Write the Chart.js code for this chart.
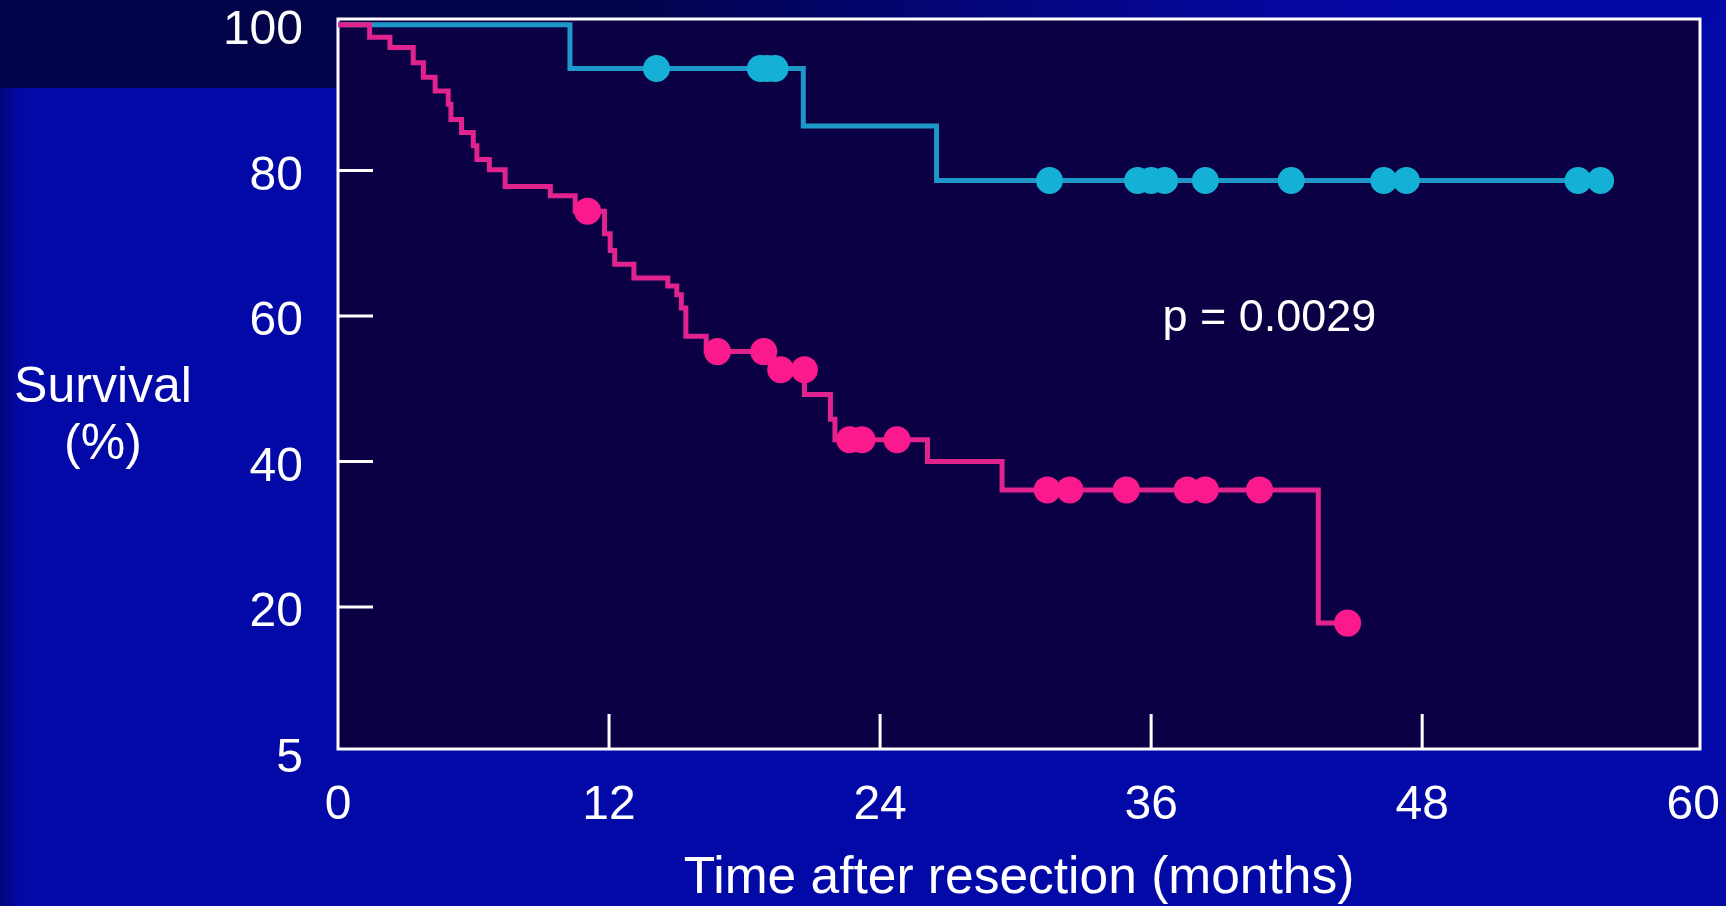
<!DOCTYPE html>
<html>
<head>
<meta charset="utf-8">
<script src="https://cdn.jsdelivr.net/npm/chart.js@4.4.1/dist/chart.umd.min.js"></script>
<style>
  html, body { margin: 0; padding: 0; }
  body { width: 1726px; height: 906px; overflow: hidden; background: #0309a6; position: relative; }
  #topband { position: absolute; left: 0; top: 0; width: 1726px; height: 19px;
    background: linear-gradient(to right, #03034a 0%, #03034a 35%, #0407a0 75%, #0309a6 100%); }
  #corner { position: absolute; left: 0; top: 0; width: 336px; height: 88px; background: #03034a; }
  #edge { position: absolute; left: 0; top: 88px; width: 20px; height: 818px;
    background: linear-gradient(to right, #02067c, #0309a6); }
  canvas { position: absolute; left: 0; top: 0; }
</style>
</head>
<body>
<div id="topband"></div>
<div id="corner"></div>
<div id="edge"></div>
<canvas id="km" width="1726" height="906"></canvas>
<script>
// Kaplan-Meier steps: survival drops to S at time t
const pinkTimes = [0, 1.4, 2.3, 3.33, 3.78, 4.3, 4.88, 5.0, 5.47, 5.99, 6.15, 6.7, 7.4, 9.4, 10.5,
  11.8, 12.05, 12.25, 13.1, 14.6, 15.0, 15.2, 15.4, 16.3, 19.15, 20.65, 21.8, 22.0, 26.1, 29.4, 43.4, 44.7];
const pinkSurv = [100, 98.3, 96.9, 94.8, 92.8, 90.9, 89.1, 87.0, 85.2, 83.4, 81.5, 80.1, 77.8, 76.5, 74.4,
  71.3, 69.0, 67.1, 65.2, 64.1, 62.9, 61.1, 57.2, 55.1, 52.6, 49.2, 45.8, 43.0, 40.0, 36.1, 17.8, 17.8];
// censored patients
const pinkCensorT = [11.05, 16.8, 18.85, 19.6, 20.65, 22.65, 23.2, 24.75, 31.4, 32.4, 34.9, 37.6, 38.4, 40.8, 44.7];
const pinkCensorS = [74.4, 55.1, 55.1, 52.6, 52.6, 43.0, 43.0, 43.0, 36.1, 36.1, 36.1, 36.1, 36.1, 36.1, 17.8];

const cyanTimes = [0, 10.27, 20.6, 26.5, 55.9];
const cyanSurv = [100, 94.0, 86.1, 78.6, 78.6];
const cyanCensorT = [14.1, 18.7, 19.0, 19.35, 31.5, 35.4, 36.0, 36.6, 38.4, 42.2, 46.3, 47.3, 54.9, 55.9];
const cyanCensorS = [94.0, 94.0, 94.0, 94.0, 78.6, 78.6, 78.6, 78.6, 78.6, 78.6, 78.6, 78.6, 78.6, 78.6];

const xTicks = [0, 12, 24, 36, 48, 60];
const yTicks = [0, 20, 40, 60, 80, 100];
const yTickLabels = ['5', '20', '40', '60', '80', '100'];
const xMin = 0, xMax = 60.3, yMin = 0.5, yMax = 100.8;

const pText = 'p = 0.0029';
const pAt = [36.5, 58.0];

const FONT = '"Liberation Sans", Arial, sans-serif';
const PLOT_BG = '#0a0043';

const toPts = (xs, ys) => xs.map((t, i) => ({ x: t, y: ys[i] }));

const framePlugin = {
  id: 'frame',
  beforeDraw(chart) {
    const { ctx, chartArea: a } = chart;
    ctx.save();
    ctx.fillStyle = PLOT_BG;
    ctx.fillRect(a.left, a.top, a.right - a.left, a.bottom - a.top);
    ctx.restore();
  },
  beforeDatasetsDraw(chart) {
    const { ctx, chartArea: a, scales: { x, y } } = chart;
    ctx.save();
    ctx.strokeStyle = '#ffffff';
    ctx.lineWidth = 3;
    ctx.strokeRect(a.left, a.top, a.right - a.left, a.bottom - a.top);
    // inward tick marks (end ticks fall on the frame)
    ctx.beginPath();
    x.ticks.forEach((t, i) => {
      if (i === 0 || i === x.ticks.length - 1) return;
      const px = x.getPixelForValue(t.value);
      ctx.moveTo(px, a.bottom); ctx.lineTo(px, a.bottom - 35);
    });
    y.ticks.forEach(t => {
      if (t.value <= yMin) return;
      const py = y.getPixelForValue(t.value);
      ctx.moveTo(a.left, py); ctx.lineTo(a.left + 35, py);
    });
    ctx.stroke();
    ctx.restore();
  },
  afterDraw(chart) {
    const { ctx, scales: { x, y } } = chart;
    ctx.save();
    ctx.fillStyle = '#ffffff';
    ctx.font = '50px ' + FONT;
    ctx.textAlign = 'center';
    ctx.textBaseline = 'alphabetic';
    ctx.fillText('Survival', 103, 402);
    ctx.fillText('(%)', 103, 459);
    ctx.font = '45px ' + FONT;
    ctx.textAlign = 'left';
    ctx.fillText(pText, x.getPixelForValue(pAt[0]), y.getPixelForValue(pAt[1]));
    ctx.restore();
  }
};

new Chart(document.getElementById('km'), {
  type: 'line',
  data: {
    datasets: [
      { data: toPts(pinkCensorT, pinkCensorS), showLine: false, pointRadius: 13.5, pointHoverRadius: 13.5,
        pointBackgroundColor: '#fb1a8e', pointBorderWidth: 0, order: 0 },
      { data: toPts(cyanCensorT, cyanCensorS), showLine: false, pointRadius: 13.5, pointHoverRadius: 13.5,
        pointBackgroundColor: '#14b0d6', pointBorderWidth: 0, order: 1 },
      { data: toPts(pinkTimes, pinkSurv), stepped: 'before', borderColor: '#e0238f', borderWidth: 5,
        pointRadius: 0, fill: false, order: 2 },
      { data: toPts(cyanTimes, cyanSurv), stepped: 'before', borderColor: '#1e98c9', borderWidth: 5,
        pointRadius: 0, fill: false, order: 3 }
    ]
  },
  options: {
    responsive: false,
    animation: false,
    events: [],
    layout: { padding: { top: 19, right: 26, left: 0, bottom: 0 } },
    plugins: { legend: { display: false }, tooltip: { enabled: false } },
    scales: {
      x: {
        type: 'linear', min: xMin, max: xMax,
        grid: { display: false, drawTicks: false },
        border: { display: false },
        afterBuildTicks: s => { s.ticks = xTicks.map(v => ({ value: v })); },
        afterFit: s => { s.height = 157; s.paddingLeft = 0; s.paddingRight = 0; },
        ticks: { color: '#ffffff', font: { family: FONT, size: 48 }, padding: 28, maxRotation: 0,
          callback: v => String(v) },
        title: { display: true, text: 'Time after resection (months)', color: '#ffffff',
          font: { family: FONT, size: 51.5, lineHeight: 1.05 }, padding: { top: 0, bottom: 0 } }
      },
      y: {
        type: 'linear', min: yMin, max: yMax,
        grid: { display: false, drawTicks: false },
        border: { display: false },
        afterBuildTicks: s => { s.ticks = yTicks.map(v => ({ value: v })); },
        afterFit: s => { s.width = 338; s.paddingTop = 0; s.paddingBottom = 0; },
        ticks: { color: '#ffffff', font: { family: FONT, size: 48 }, padding: 35, labelOffset: 6,
          callback: (v, i) => yTickLabels[i] }
      }
    }
  },
  plugins: [framePlugin]
});
</script>
</body>
</html>
